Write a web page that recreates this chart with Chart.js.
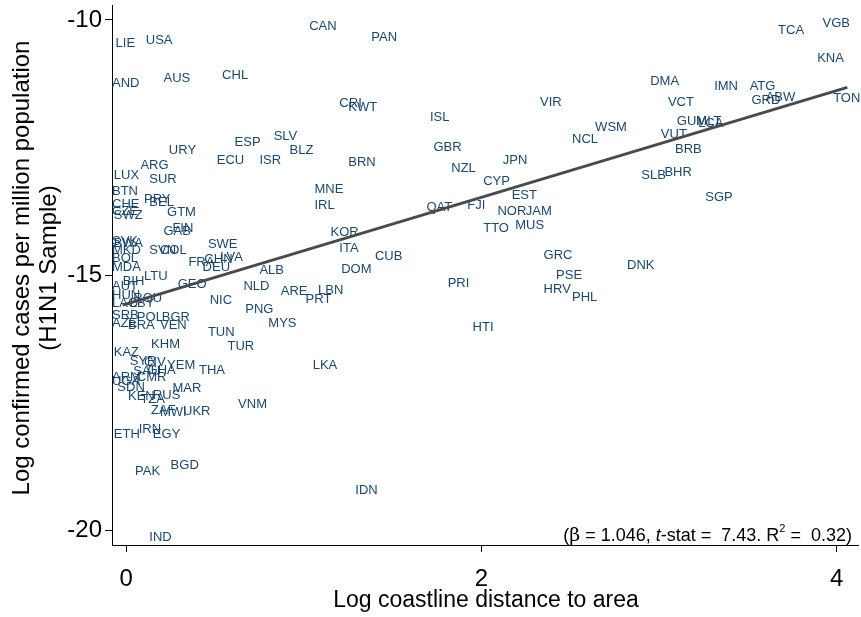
<!DOCTYPE html>
<html>
<head>
<meta charset="utf-8">
<script src="https://cdn.jsdelivr.net/npm/chart.js@4.4.1/dist/chart.umd.min.js"></script>
<style>
  html, body { margin: 0; padding: 0; background: #fff; }
</style>
</head>
<body>
<canvas id="chart" width="861" height="617"></canvas>
<script>
// country codes and their values
const codes = [
  'LIE','USA','AND','AUS','CHL','URY','ESP','SLV','BLZ','ECU',
  'ISR','LUX','ARG','SUR','BTN','PRY','BEL','CHE','CZE','SWZ',
  'GTM','FIN','GAB','SVK','BWA','MKD','SVN','COL','BOL','SWE',
  'FRA','CHN','LVA','DEU','MDA','LTU','BIH','AUT','GEO','NLD',
  'ALB','HUN','ROU','LAO','LBY','NIC','PNG','SRB','POL','BGR',
  'AZE','BRA','VEN','TUN','TUR','KHM','KAZ','SYR','CIV','YEM',
  'THA','SAU','GHA','ARM','UGA','CMR','SDN','MAR','KEN','TZA',
  'RUS','ZAF','MWI','UKR','ETH','IRN','EGY','PAK','BGD','IND',
  'MNE','IRL','KOR','ITA','CUB','DOM','ARE','LBN','PRT','MYS',
  'VNM','LKA','IDN','CAN','PAN','CRI','KWT','ISL','BRN','GBR',
  'JPN','NZL','CYP','EST','QAT','FJI','NOR','JAM','TTO','MUS',
  'GRC','PRI','HTI','PSE','HRV','PHL','DNK','SGP','VIR','TCA',
  'VGB','KNA','DMA','IMN','ATG','ABW','GRD','TON','VCT','GUM',
  'MLT','LCA','WSM','NCL','VUT','BRB','SLB','BHR'
];

const logCoast = [
  -0.06, 0.11, -0.08, 0.21, 0.54, 0.24, 0.61, 0.83, 0.92, 0.51,
  0.75, -0.07, 0.08, 0.13, -0.08, 0.10, 0.13, -0.08, -0.08, -0.07,
  0.23, 0.26, 0.21, -0.08, -0.07, -0.08, 0.13, 0.19, -0.08, 0.46,
  0.35, 0.44, 0.53, 0.43, -0.08, 0.10, -0.02, -0.08, 0.29, 0.66,
  0.75, -0.08, 0.04, -0.08, 0.02, 0.47, 0.67, -0.08, 0.06, 0.20,
  -0.08, 0.01, 0.19, 0.46, 0.57, 0.14, -0.07, 0.02, 0.10, 0.23,
  0.41, 0.04, 0.12, -0.08, -0.08, 0.06, -0.05, 0.26, 0.01, 0.08,
  0.15, 0.14, 0.19, 0.32, -0.07, 0.07, 0.15, 0.05, 0.25, 0.13,
  1.06, 1.06, 1.15, 1.20, 1.40, 1.21, 0.87, 1.08, 1.01, 0.80,
  0.63, 1.05, 1.29, 1.03, 1.38, 1.20, 1.25, 1.71, 1.25, 1.73,
  2.12, 1.83, 2.01, 2.17, 1.69, 1.92, 2.09, 2.25, 2.01, 2.19,
  2.35, 1.81, 1.95, 2.42, 2.35, 2.51, 2.82, 3.26, 2.33, 3.67,
  3.92, 3.89, 2.95, 3.31, 3.51, 3.60, 3.52, 3.98, 3.05, 3.10,
  3.21, 3.22, 2.64, 2.51, 3.01, 3.09, 2.90, 3.03
];

const logCases = [
  -10.45, -10.41, -11.24, -11.14, -11.08, -12.55, -12.41, -12.29, -12.55, -12.75,
  -12.75, -13.04, -12.86, -13.12, -13.37, -13.51, -13.57, -13.61, -13.75, -13.84,
  -13.78, -14.08, -14.14, -14.35, -14.39, -14.51, -14.51, -14.51, -14.67, -14.41,
  -14.75, -14.69, -14.65, -14.86, -14.86, -15.02, -15.12, -15.22, -15.18, -15.22,
  -14.92, -15.41, -15.45, -15.55, -15.55, -15.49, -15.67, -15.80, -15.84, -15.84,
  -15.94, -15.98, -15.98, -16.12, -16.41, -16.37, -16.51, -16.69, -16.71, -16.78,
  -16.88, -16.90, -16.88, -17.00, -17.08, -17.00, -17.20, -17.22, -17.39, -17.43,
  -17.37, -17.65, -17.69, -17.67, -18.12, -18.02, -18.12, -18.86, -18.73, -20.14,
  -13.33, -13.63, -14.16, -14.47, -14.63, -14.90, -15.33, -15.31, -15.47, -15.94,
  -17.53, -16.78, -19.22, -10.12, -10.35, -11.63, -11.71, -11.92, -12.80, -12.49,
  -12.76, -12.92, -13.16, -13.43, -13.67, -13.63, -13.75, -13.75, -14.08, -14.02,
  -14.61, -15.16, -16.02, -15.00, -15.29, -15.43, -14.82, -13.47, -11.61, -10.20,
  -10.06, -10.76, -11.20, -11.31, -11.31, -11.51, -11.57, -11.53, -11.61, -11.98,
  -11.98, -12.02, -12.10, -12.35, -12.24, -12.53, -13.04, -12.98
];

// fitted line end points
const fitX = [-0.02, 4.06];
const fitY = [-15.59, -11.32];

const xTicks = [0, 2, 4];
const yTicks = [-10, -15, -20];

const labelColor = '#1a476f';
const FONT = '"Liberation Sans", Arial, sans-serif';

// labels drawn under the fit line
const countryLabels = {
  id: 'countryLabels',
  beforeDatasetsDraw(chart) {
    const ctx = chart.ctx;
    const meta = chart.getDatasetMeta(1);
    ctx.save();
    ctx.font = '13px ' + FONT;
    ctx.fillStyle = labelColor;
    ctx.textAlign = 'left';
    ctx.textBaseline = 'middle';
    meta.data.forEach((pt, i) => ctx.fillText(codes[i], pt.x, pt.y));
    ctx.restore();
  }
};

// axis titles and the regression note
const extras = {
  id: 'extras',
  afterDraw(chart) {
    const ctx = chart.ctx;
    const area = chart.chartArea;
    ctx.save();
    ctx.fillStyle = '#000';
    ctx.textAlign = 'center';
    ctx.textBaseline = 'middle';
    ctx.font = '23px ' + FONT;
    ctx.fillText('Log coastline distance to area', (area.left + area.right) / 2 + 1, 601);

    ctx.translate(0, 268);
    ctx.rotate(-Math.PI / 2);
    ctx.font = '24px ' + FONT;
    ctx.fillText('Log confirmed cases per million population', 0, 22);
    ctx.fillText('(H1N1 Sample)', 0, 49);
    ctx.restore();

    // note in the bottom right corner
    const parts = [
      { t: '(', f: '18px ' + FONT },
      { t: 'β', f: '19px "DejaVu Serif", serif' },
      { t: ' = 1.046, ', f: '18px ' + FONT },
      { t: 't', f: 'italic 18px ' + FONT },
      { t: '-stat =  7.43. R', f: '18px ' + FONT },
      { t: '2', f: '11px ' + FONT, sup: true },
      { t: ' =  0.32)', f: '18px ' + FONT }
    ];
    ctx.save();
    ctx.fillStyle = '#000';
    ctx.textBaseline = 'middle';
    ctx.textAlign = 'left';
    let total = 0;
    parts.forEach(p => { ctx.font = p.f; total += ctx.measureText(p.t).width; });
    let x = 852 - total;
    const y = 536;
    parts.forEach(p => {
      ctx.font = p.f;
      ctx.fillText(p.t, x, p.sup ? y - 7 : y);
      x += ctx.measureText(p.t).width;
    });
    ctx.restore();
  }
};

new Chart(document.getElementById('chart'), {
  type: 'scatter',
  data: {
    datasets: [
      {
        type: 'line',
        data: fitX.map((v, i) => ({ x: v, y: fitY[i] })),
        borderColor: '#4a4a4a',
        borderWidth: 3,
        pointRadius: 0,
        fill: false
      },
      {
        data: logCoast.map((v, i) => ({ x: v, y: logCases[i] })),
        pointRadius: 0,
        pointHoverRadius: 0
      }
    ]
  },
  options: {
    responsive: false,
    animation: false,
    events: [],
    layout: { padding: { left: 0, right: 3, top: 5, bottom: 0 } },
    plugins: {
      legend: { display: false },
      tooltip: { enabled: false }
    },
    scales: {
      x: {
        type: 'linear',
        min: -0.08,
        max: 4.12,
        afterBuildTicks: axis => { axis.ticks = xTicks.map(v => ({ value: v })); },
        afterFit: scale => { scale.height = 72; scale.paddingLeft = 0; scale.paddingRight = 0; },
        grid: { drawOnChartArea: false, drawTicks: true, tickLength: 7, color: '#000' },
        border: { display: true, color: '#000', width: 1 },
        ticks: { color: '#000', font: { family: FONT, size: 24 }, padding: 13, maxRotation: 0 }
      },
      y: {
        type: 'linear',
        min: -20.294,
        max: -9.706,
        afterBuildTicks: axis => { axis.ticks = yTicks.map(v => ({ value: v })); },
        afterFit: scale => { scale.width = 112; scale.paddingTop = 0; scale.paddingBottom = 0; },
        grid: { drawOnChartArea: false, drawTicks: true, tickLength: 7, color: '#000' },
        border: { display: true, color: '#000', width: 1 },
        ticks: { color: '#000', font: { family: FONT, size: 24 }, padding: 3 }
      }
    }
  },
  plugins: [countryLabels, extras]
});
</script>
</body>
</html>
